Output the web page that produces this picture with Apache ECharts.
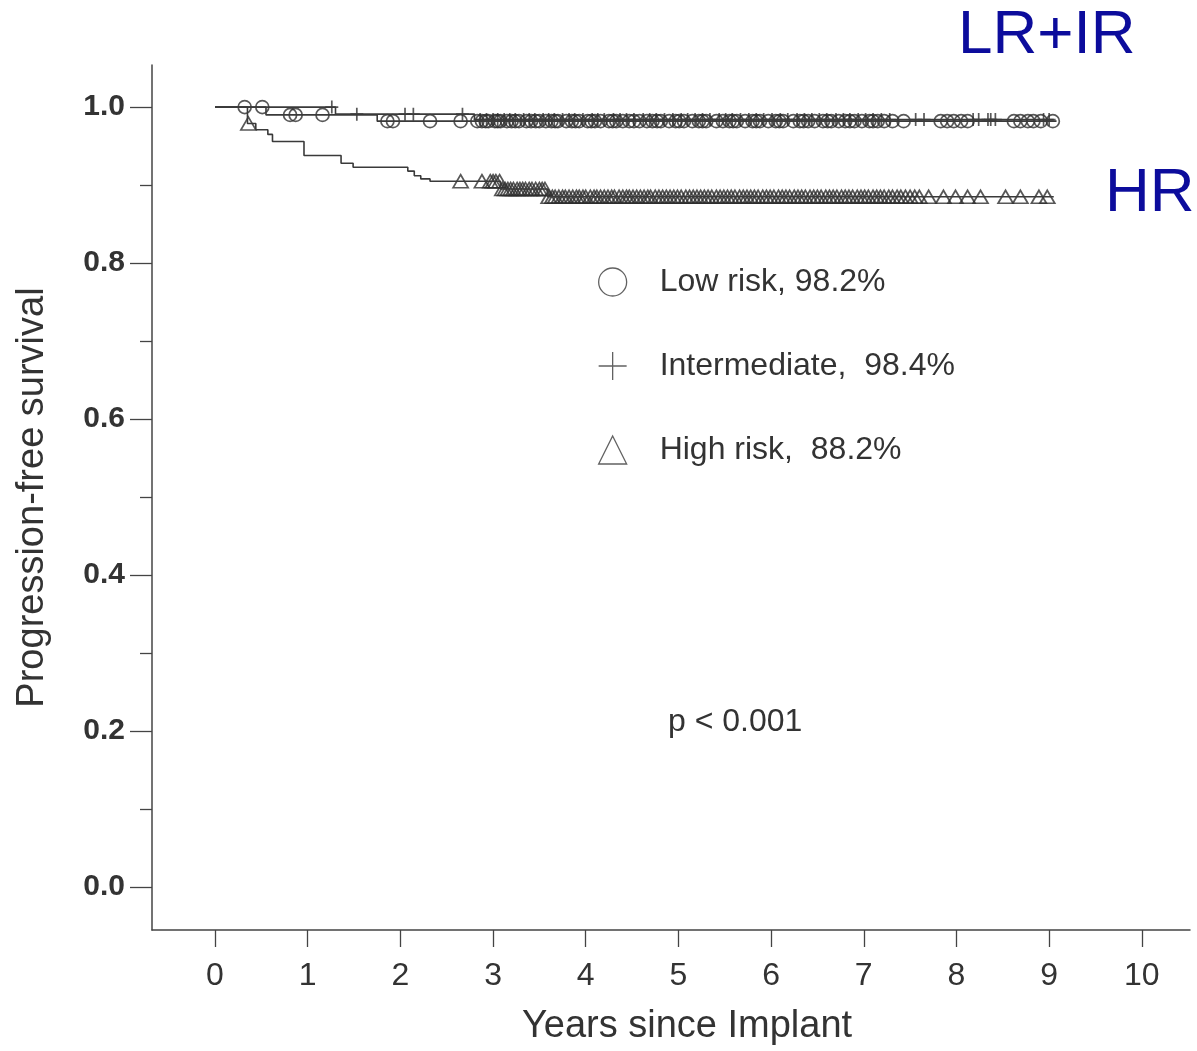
<!DOCTYPE html>
<html>
<head>
<meta charset="utf-8">
<script src="https://cdn.jsdelivr.net/npm/echarts@6/dist/echarts.min.js"></script>
<style>
  html, body { margin: 0; padding: 0; background: #ffffff; }
  #chart { width: 1197px; height: 1051px; }
</style>
</head>
<body>
<div id="chart"></div>
<script>
// step curves (time in years, survival after the step)
const lrTimes = [0, 0.55, 1.75, 9.08];
const lrSurv  = [1.0, 0.990, 0.982, 0.982];
const irTimes = [0, 1.30, 2.80, 9.05];
const irSurv  = [1.0, 0.991, 0.984, 0.984];
const hrTimes = [0, 0.35, 0.44, 0.57, 0.62, 0.96, 1.36, 1.49, 2.08, 2.15, 2.22, 2.32, 3.08, 3.59, 9.05];
const hrSurv  = [1.0, 0.979, 0.971, 0.965, 0.956, 0.938, 0.928, 0.923, 0.918, 0.912, 0.908, 0.905, 0.895, 0.885, 0.885];

// censored patients (tick marks)
const lrCensor = [0.32, 0.51, 0.81, 0.87, 1.16, 1.86, 1.92, 2.32, 2.65,
  2.83, 2.88, 2.92, 2.95, 3.02, 3.05, 3.08, 3.15, 3.2, 3.24, 3.28, 3.36, 3.41, 3.46, 3.5, 3.57, 3.63,
  3.67, 3.7, 3.79, 3.85, 3.89, 3.93, 4.02, 4.06, 4.1, 4.16, 4.25, 4.29, 4.33, 4.4, 4.47, 4.52, 4.58,
  4.66, 4.72, 4.77, 4.81, 4.9, 4.97, 5.01, 5.06, 5.15, 5.22, 5.26, 5.3, 5.41, 5.48, 5.55, 5.59, 5.63,
  5.72, 5.8, 5.84, 5.88, 5.97, 6.05, 6.09, 6.13, 6.24, 6.31, 6.35, 6.4, 6.47, 6.56, 6.61, 6.65, 6.73,
  6.8, 6.85, 6.9, 6.98, 7.06, 7.1, 7.15, 7.22, 7.31, 7.43, 7.83, 7.9, 7.97, 8.05, 8.12, 8.62, 8.69,
  8.77, 8.83, 8.91, 9.04];
const irCensor = [1.26, 1.53, 2.05, 2.14, 2.67,
  2.86, 2.93, 3.0, 3.05, 3.12, 3.18, 3.24, 3.33, 3.39, 3.45, 3.54, 3.6, 3.66, 3.75, 3.82, 3.88, 3.97,
  4.07, 4.13, 4.2, 4.3, 4.37, 4.44, 4.52, 4.62, 4.69, 4.76, 4.85, 4.94, 5.03, 5.1, 5.18, 5.26, 5.34,
  5.44, 5.51, 5.58, 5.67, 5.76, 5.84, 5.92, 6.01, 6.1, 6.18, 6.28, 6.36, 6.44, 6.52, 6.6, 6.7, 6.78,
  6.85, 6.94, 7.02, 7.1, 7.19, 7.28, 7.56, 7.65, 8.18, 8.24, 8.34, 8.37, 8.42, 8.94, 9.0];
const hrCensor = [0.36, 2.65, 2.88,
  2.97, 3.0, 3.03, 3.07, 3.1, 3.13, 3.16, 3.19, 3.22, 3.26, 3.29, 3.32, 3.35, 3.39, 3.42, 3.46, 3.5,
  3.53, 3.56, 3.6, 3.64, 3.67, 3.71, 3.75, 3.78, 3.82, 3.86, 3.9, 3.93, 3.97, 4.0, 4.05, 4.09, 4.12,
  4.16, 4.2, 4.24, 4.28, 4.31, 4.36, 4.4, 4.44, 4.47, 4.51, 4.55, 4.59, 4.63, 4.67, 4.7, 4.75, 4.79,
  4.83, 4.87, 4.91, 4.95, 4.99, 5.03, 5.08, 5.12, 5.16, 5.2, 5.24, 5.28, 5.32, 5.36, 5.41, 5.45, 5.49,
  5.53, 5.57, 5.61, 5.66, 5.7, 5.74, 5.78, 5.82, 5.86, 5.91, 5.95, 5.99, 6.03, 6.08, 6.12, 6.16, 6.2,
  6.25, 6.29, 6.33, 6.37, 6.42, 6.46, 6.5, 6.54, 6.59, 6.63, 6.67, 6.71, 6.76, 6.8, 6.84, 6.88, 6.93,
  6.97, 7.01, 7.05, 7.1, 7.14, 7.18, 7.22, 7.27, 7.31, 7.36, 7.4, 7.45, 7.5, 7.55, 7.6, 7.7, 7.86,
  7.99, 8.12, 8.26, 8.53, 8.69, 8.89, 8.98];

const groupNames = ['Low risk, 98.2%', 'Intermediate,  98.4%', 'High risk,  88.2%'];
const xTicks = [0, 1, 2, 3, 4, 5, 6, 7, 8, 9, 10];
const yTicks = [0, 0.2, 0.4, 0.6, 0.8, 1.0];
const yMinorTicks = [0.1, 0.3, 0.5, 0.7, 0.9];

const ink = '#333333';
const plusPath = 'path://M12,0V24M0,12H24';

function curve(times, surv) {
  return times.map((t, i) => [t, surv[i]]);
}
// survival value of the step curve at time t
function survAt(times, surv, t) {
  let s = surv[0];
  for (let i = 0; i < times.length; i++) {
    if (times[i] <= t) s = surv[i];
  }
  return s;
}
function marks(censor, times, surv) {
  return censor.map(t => [t, survAt(times, surv, t)]);
}

const markStyle = { color: 'rgba(0,0,0,0)', borderColor: '#2e2e2e', borderWidth: 1.7 };
const legendMark = { color: 'rgba(0,0,0,0)', borderColor: '#3a3a3a', borderWidth: 1.3 };

const chart = echarts.init(document.getElementById('chart'));
chart.setOption({
  backgroundColor: '#ffffff',
  animation: false,
  grid: { left: 152, right: 7, top: 65, bottom: 116, containLabel: false },
  legend: {
    orient: 'vertical',
    left: 593,
    top: 261,
    itemWidth: 28,
    itemHeight: 28,
    itemGap: 52,
    selectedMode: false,
    textStyle: { fontFamily: 'Liberation Sans', fontSize: 32, color: ink, padding: [0, 0, 0, 28] },
    data: [
      { name: groupNames[0], icon: 'circle', itemStyle: legendMark },
      { name: groupNames[1], icon: plusPath, itemStyle: legendMark },
      { name: groupNames[2], icon: 'triangle', itemStyle: legendMark }
    ]
  },
  xAxis: {
    type: 'value',
    min: -0.68,
    max: 10.52,
    name: 'Years since Implant',
    nameLocation: 'middle',
    nameGap: 78,
    nameTextStyle: { fontFamily: 'Liberation Sans', fontSize: 38, color: ink, padding: [0, 0, 0, 32] },
    axisLine: { onZero: false, lineStyle: { color: '#444', width: 1.5 } },
    axisTick: { customValues: xTicks, length: 17, lineStyle: { color: '#444', width: 1.3 } },
    axisLabel: {
      customValues: xTicks, margin: 30,
      fontFamily: 'Liberation Sans Narrow, Liberation Sans', fontSize: 32, color: ink
    },
    splitLine: { show: false }
  },
  yAxis: [
    {
      type: 'value',
      min: -0.055,
      max: 1.054,
      name: 'Progression-free survival',
      nameLocation: 'middle',
      nameGap: 100,
      nameTextStyle: { fontFamily: 'Liberation Sans', fontSize: 38, color: ink },
      axisLine: { show: true, onZero: false, lineStyle: { color: '#444', width: 1.5 } },
      axisTick: { show: true, customValues: yTicks, length: 22, lineStyle: { color: '#444', width: 1.3 } },
      axisLabel: {
        customValues: yTicks, margin: 27,
        fontFamily: 'Liberation Sans', fontWeight: 'bold', fontSize: 30, color: ink,
        formatter: v => v.toFixed(1)
      },
      splitLine: { show: false }
    },
    {
      type: 'value',
      min: -0.055,
      max: 1.054,
      position: 'left',
      axisLine: { show: false, onZero: false },
      axisTick: { show: true, customValues: yMinorTicks, length: 12, lineStyle: { color: '#444', width: 1.3 } },
      axisLabel: { show: false },
      splitLine: { show: false }
    }
  ],
  graphic: [
    { type: 'text', x: 958, y: 36, style: { text: 'LR+IR', fill: '#0c0c9c', font: '62px "Liberation Sans"', verticalAlign: 'middle' } },
    { type: 'text', x: 1105, y: 194, style: { text: 'HR', fill: '#0c0c9c', font: '62px "Liberation Sans"', verticalAlign: 'middle' } },
    { type: 'text', x: 668, y: 722, style: { text: 'p < 0.001', fill: ink, font: '32px "Liberation Sans"', verticalAlign: 'middle' } }
  ],
  series: [
    {
      name: 'LR curve', type: 'line', step: 'end', showSymbol: false, silent: true,
      lineStyle: { color: '#3a3a3a', width: 1.6 }, data: curve(lrTimes, lrSurv)
    },
    {
      name: 'IR curve', type: 'line', step: 'end', showSymbol: false, silent: true,
      lineStyle: { color: '#3a3a3a', width: 1.6 }, data: curve(irTimes, irSurv)
    },
    {
      name: 'HR curve', type: 'line', step: 'end', showSymbol: false, silent: true,
      lineStyle: { color: '#3a3a3a', width: 1.6 }, data: curve(hrTimes, hrSurv)
    },
    {
      name: groupNames[0], type: 'scatter', symbol: 'circle', symbolSize: 13,
      itemStyle: markStyle, data: marks(lrCensor, lrTimes, lrSurv)
    },
    {
      name: groupNames[1], type: 'scatter', symbol: plusPath, symbolSize: 13,
      itemStyle: markStyle, data: marks(irCensor, irTimes, irSurv)
    },
    {
      name: groupNames[2], type: 'scatter', symbol: 'triangle', symbolSize: [15, 13],
      itemStyle: markStyle, data: marks(hrCensor, hrTimes, hrSurv)
    }
  ]
});
</script>
</body>
</html>
